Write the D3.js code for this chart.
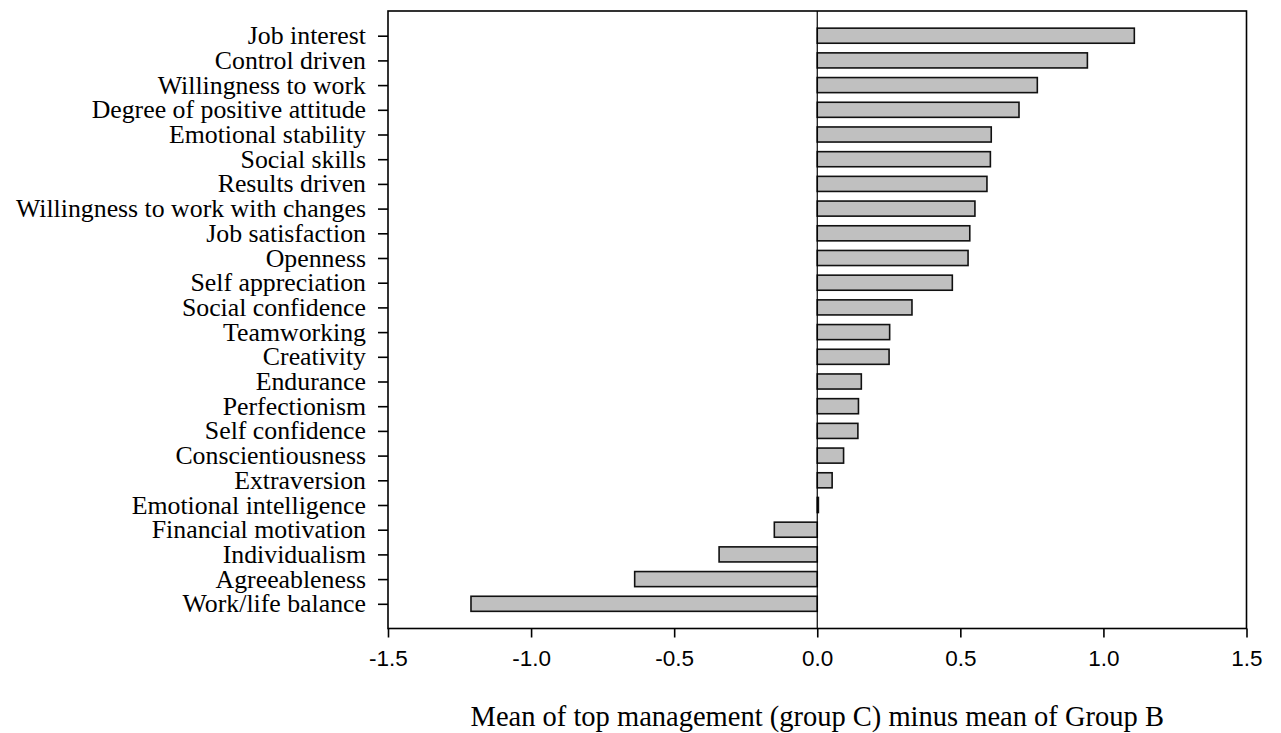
<!DOCTYPE html>
<html>
<head>
<meta charset="utf-8">
<script src="https://cdn.jsdelivr.net/npm/d3@7"></script>
<style>
  html, body { margin: 0; padding: 0; background: #fff; }
  svg { display: block; }
</style>
</head>
<body>
<svg id="chart" width="1281" height="733"></svg>
<script>
const categories = [
  "Job interest", "Control driven", "Willingness to work", "Degree of positive attitude",
  "Emotional stability", "Social skills", "Results driven", "Willingness to work with changes",
  "Job satisfaction", "Openness", "Self appreciation", "Social confidence", "Teamworking",
  "Creativity", "Endurance", "Perfectionism", "Self confidence", "Conscientiousness",
  "Extraversion", "Emotional intelligence", "Financial motivation", "Individualism",
  "Agreeableness", "Work/life balance"
];
const values = [
  1.108, 0.944, 0.769, 0.705, 0.608, 0.605, 0.593, 0.551,
  0.533, 0.527, 0.472, 0.331, 0.253, 0.251, 0.154, 0.144,
  0.142, 0.092, 0.052, 0.004, -0.150, -0.343, -0.638, -1.210
];
const xTicks = [-1.5, -1.0, -0.5, 0.0, 0.5, 1.0, 1.5];
const xTitle = "Mean of top management (group C) minus mean of Group B";

const svg = d3.select("#chart");
const L = 388, R = 1246.5, T = 11, B = 628.5;

const x = d3.scaleLinear().domain([-1.5, 1.5]).range([L, R]);
const y = d3.scalePoint().domain(categories).range([T, B]).padding(1);
const barH = y.step() * 0.61;

// bars
svg.append("g").selectAll("rect")
  .data(values)
  .join("rect")
  .attr("x", d => x(Math.min(0, d)))
  .attr("y", (d, i) => y(categories[i]) - barH / 2)
  .attr("width", d => Math.abs(x(d) - x(0)))
  .attr("height", barH)
  .attr("fill", "#c0c0c0")
  .attr("stroke", "#111")
  .attr("stroke-width", 1.6);

// zero line
svg.append("line")
  .attr("x1", x(0)).attr("x2", x(0))
  .attr("y1", T).attr("y2", B)
  .attr("stroke", "#000").attr("stroke-width", 1.2);

// frame
svg.append("rect")
  .attr("x", L).attr("y", T)
  .attr("width", R - L).attr("height", B - T)
  .attr("fill", "none").attr("stroke", "#000").attr("stroke-width", 1.6);

// x axis
const xAxis = svg.append("g")
  .attr("transform", `translate(0,${B})`)
  .call(d3.axisBottom(x).tickValues(xTicks).tickFormat(d => d.toFixed(1)).tickSize(9).tickSizeOuter(0).tickPadding(13));
xAxis.select(".domain").remove();
xAxis.selectAll(".tick line").attr("stroke", "#000").attr("stroke-width", 1.6);
xAxis.selectAll(".tick text")
  .attr("font-family", "'Liberation Sans', Arial, sans-serif")
  .attr("font-size", "22.5px")
  .attr("fill", "#000");

// y axis
const yAxis = svg.append("g")
  .attr("transform", `translate(${L},0)`)
  .call(d3.axisLeft(y).tickSize(10).tickSizeOuter(0).tickPadding(12));
yAxis.select(".domain").remove();
yAxis.selectAll(".tick line").attr("stroke", "#000").attr("stroke-width", 1.6);
yAxis.selectAll(".tick text")
  .attr("font-family", "'Liberation Serif', 'Times New Roman', serif")
  .attr("font-size", "25.8px")
  .attr("dy", "0.31em")
  .attr("fill", "#000");

// x title
svg.append("text")
  .attr("x", x(0))
  .attr("y", 726)
  .attr("text-anchor", "middle")
  .attr("font-family", "'Liberation Serif', 'Times New Roman', serif")
  .attr("font-size", "28.5px")
  .attr("fill", "#000")
  .text(xTitle);
</script>
</body>
</html>
